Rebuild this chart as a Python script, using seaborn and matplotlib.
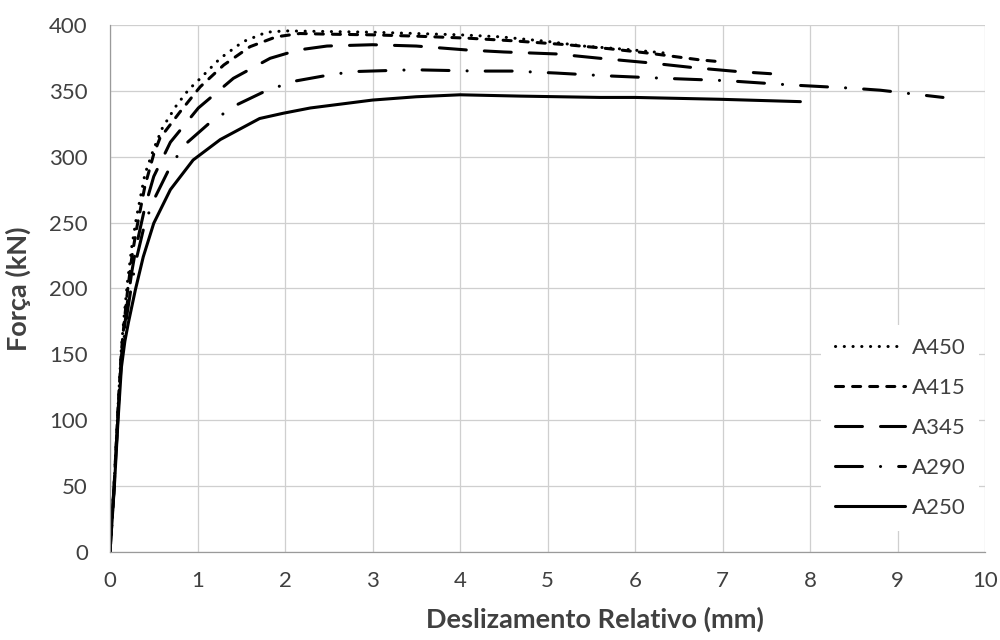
import matplotlib
matplotlib.use("Agg")
import matplotlib.pyplot as plt
import numpy as np
import seaborn as sns

# series: slip (mm) vs force (kN)
x_a450 = [0, 0.05, 0.09, 0.13, 0.16, 0.2, 0.25, 0.3, 0.4, 0.5, 0.6, 0.76, 0.9, 1.01, 1.26, 1.52,
          1.79, 2.0, 2.5, 3.0, 3.5, 4.0, 4.46, 5.0, 5.41, 5.9, 6.37]
f_a450 = [0, 55, 108, 155, 178, 205, 232, 253, 287, 306, 322, 339, 351, 358, 374.7, 387.3,
          394.5, 395.5, 395, 394.5, 393.5, 392.5, 391, 387.5, 384, 381.5, 378.5]

x_a415 = [0, 0.05, 0.09, 0.13, 0.16, 0.2, 0.25, 0.3, 0.4, 0.5, 0.57, 0.8, 1.03, 1.3, 1.6, 1.9,
          2.17, 2.5, 3.0, 3.5, 4.08, 4.6, 5.22, 5.7, 6.17, 6.74, 6.99]
f_a415 = [0, 54, 106, 152, 173, 198, 224, 244, 278, 302, 314, 334, 353, 369.6, 383.5, 391,
          393.5, 393, 392.5, 391.5, 390, 388, 385, 382, 378.5, 373.5, 372]

x_a345 = [0, 0.05, 0.09, 0.13, 0.16, 0.2, 0.25, 0.3, 0.4, 0.5, 0.69, 1.01, 1.41, 1.83, 2.15,
          2.48, 3.0, 3.5, 4.08, 4.5, 5.1, 5.6, 6.14, 6.67, 7.18, 7.55]
f_a345 = [0, 53, 104, 148, 167, 190, 213, 232, 262, 285, 311, 337, 359.5, 374.7, 381,
          384, 385, 384, 381, 379.5, 378, 374.7, 371.4, 367.6, 364.6, 363]

x_a290 = [0, 0.05, 0.09, 0.13, 0.16, 0.2, 0.25, 0.3, 0.4, 0.51, 0.7, 0.87, 1.12, 1.43, 1.75,
          2.08, 2.5, 2.78, 3.47, 4.19, 4.6, 5.1, 5.64, 6.34, 7.05, 7.77, 8.48, 8.8, 9.0, 9.18, 9.52]
f_a290 = [0, 52, 102, 145, 162, 183, 204, 222, 250, 268.5, 294, 310, 324.6, 338.8, 349,
          357, 362, 364.6, 366, 365, 365, 363.5, 361.5, 359.5, 357.7, 354.5, 352, 350.5, 349, 347.6, 345]

x_a250 = [0, 0.05, 0.09, 0.13, 0.17, 0.21, 0.29, 0.38, 0.5, 0.69, 0.95, 1.26, 1.71, 1.98, 2.29,
          3.0, 3.5, 4.0, 4.69, 5.6, 6.0, 6.97, 7.89]
f_a250 = [0, 50, 98, 140, 160, 174, 199, 224, 249.5, 275, 297.5, 313, 329, 333, 337,
          343, 345.5, 347, 346, 345, 345, 343.6, 341.8]

labels = ["A450", "A415", "A345", "A290", "A250"]
xs = [x_a450, x_a415, x_a345, x_a290, x_a250]
ys = [f_a450, f_a415, f_a345, f_a290, f_a250]
dashdot = (19.4, 13, 0.07, 13)
styles = [(0, (0.1, 6.2)),
          (0, (5.8, 6.5)),
          (0, (19.4, 13)),
          (0, dashdot),
          "-"]

sns.set_theme(style="white")
plt.rcParams["font.family"] = ["Lato", "DejaVu Sans"]
plt.rcParams["lines.scale_dashes"] = False

fig = plt.figure(figsize=(10, 6.4), dpi=100)
ax = fig.add_axes([0.11, 0.1375, 0.875, 0.8235])

for xv, yv, lab, ls in zip(xs, ys, labels, styles):
    sns.lineplot(x=xv, y=yv, ax=ax, color="black", lw=2.2, linestyle=ls,
                 dash_capstyle="round", solid_capstyle="round",
                 sort=False, estimator=None, label=lab)

ax.set_xlim(0, 10)
ax.set_ylim(0, 400)
ax.set_xticks(range(0, 11))
ax.set_yticks(range(0, 401, 50))
ax.grid(True, color="#cfcfcf", lw=0.9)
ax.set_axisbelow(True)
for side in ["top", "right"]:
    ax.spines[side].set_visible(False)
for side in ["left", "bottom"]:
    ax.spines[side].set_color("#9a9a9a")
    ax.spines[side].set_linewidth(0.9)
ax.tick_params(axis="both", which="major", direction="out", length=5, width=0.9,
               color="#9a9a9a", labelsize=16, labelcolor="#404040")
ax.tick_params(axis="x", pad=9)
ax.tick_params(axis="y", pad=11)

ax.set_xlabel("Deslizamento Relativo (mm)", fontsize=19.5, fontweight="bold", color="#404040")
ax.set_ylabel("Força (kN)", fontsize=19.5, fontweight="bold", color="#404040")
ax.xaxis.set_label_coords(0.554, -0.103)
ax.yaxis.set_label_coords(-0.09, 0.5)

leg = ax.legend(loc="center", bbox_to_anchor=(0.9, 0.331), bbox_transform=fig.transFigure,
                frameon=True, facecolor="white", edgecolor="none", framealpha=1,
                fontsize=16, handlelength=3.15, handletextpad=0.3, labelspacing=0.9,
                labelcolor="#404040", borderpad=0.6)

# shift the dash-dot pattern so the A290 curve ends on a dash, as in the original
pts = ax.transData.transform(np.column_stack([x_a290, f_a290]))
length_pt = np.hypot(*np.diff(pts, axis=0).T).sum() * 72 / fig.dpi
ax.lines[3].set_linestyle(((12 - length_pt) % sum(dashdot), dashdot))

fig.savefig("out.png", dpi=100)
